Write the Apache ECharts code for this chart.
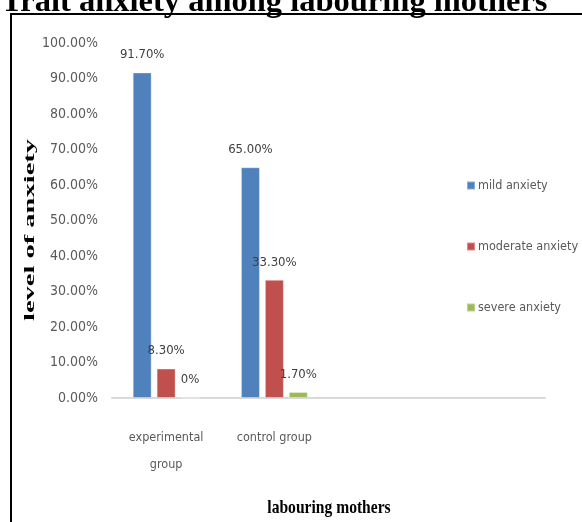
<!DOCTYPE html>
<html>
<head>
<meta charset="utf-8">
<script src="https://cdn.jsdelivr.net/npm/echarts@6/dist/echarts.min.js"></script>
<style>
  html, body { margin: 0; padding: 0; background: #fff; }
  #chart { width: 582px; height: 522px; }
</style>
</head>
<body>
<div id="chart"></div>
<script>
const categories = ['experimental\ngroup', 'control group', '', ''];
const seriesNames = ['mild anxiety', 'moderate anxiety', 'severe anxiety'];
const mild = [91.7, 65.0];
const moderate = [8.3, 33.3];
const severe = [0, 1.7];
const yTicks = [0, 10, 20, 30, 40, 50, 60, 70, 80, 90, 100];
const colors = ['#4f81bd', '#c0504d', '#9bbb59'];

const narrow = '"Liberation Sans Narrow", "DejaVu Sans Condensed", "Roboto Condensed", "Liberation Sans", sans-serif';
const chart = echarts.init(document.getElementById('chart'));

function pct(v) {
  return v === 0 ? '0%' : v.toFixed(2) + '%';
}

function barSeries(name, data, color) {
  return {
    name: name,
    type: 'bar',
    data: data,
    barWidth: 19,
    barGap: '26%',
    itemStyle: { color: color, borderColor: 'rgba(255,255,255,0.35)', borderWidth: 1 },
    label: {
      show: true,
      position: 'top',
      distance: 11,
      fontFamily: narrow,
      fontSize: 13,
      color: '#404040',
      formatter: p => pct(p.value)
    }
  };
}

chart.setOption({
  animation: false,
  color: colors,
  grid: { left: 112, right: 37, top: 43, bottom: 124 },
  legend: {
    orient: 'vertical',
    left: 461,
    top: 174,
    itemWidth: 8,
    itemHeight: 8,
    itemGap: 48,
    icon: 'rect',
    textStyle: { fontFamily: narrow, fontSize: 12.5, color: '#595959', padding: [0, 0, 0, -2] },
    data: seriesNames
  },
  xAxis: {
    type: 'category',
    data: categories,
    axisTick: { show: false },
    axisLine: { lineStyle: { color: '#d9d9d9', width: 2 } },
    axisLabel: {
      margin: 26,
      fontFamily: narrow,
      fontSize: 12.5,
      lineHeight: 27,
      color: '#595959',
      interval: 0
    }
  },
  yAxis: {
    type: 'value',
    min: yTicks[0],
    max: yTicks[yTicks.length - 1],
    interval: 10,
    splitLine: { show: false },
    axisLine: { show: false },
    axisTick: { show: false },
    axisLabel: {
      margin: 14,
      fontFamily: narrow,
      fontSize: 14,
      color: '#595959',
      formatter: v => v.toFixed(2) + '%'
    }
  },
  graphic: [
    {
      type: 'rect',
      shape: { x: 11, y: 14, width: 640, height: 560 },
      style: { fill: 'none', stroke: '#000', lineWidth: 2 }
    },
    {
      type: 'text',
      x: 1,
      y: 19,
      style: {
        text: 'Trait anxiety among labouring mothers',
        font: 'bold 32.5px "Liberation Serif"',
        fill: '#000',
        textAlign: 'left',
        textVerticalAlign: 'bottom'
      }
    },
    {
      type: 'text',
      x: 30,
      y: 230,
      rotation: Math.PI / 2,
      scaleX: 1.9,
      style: {
        text: 'level of anxiety',
        font: 'bold 15px "Liberation Serif"',
        fill: '#000',
        textAlign: 'center',
        textVerticalAlign: 'middle'
      }
    },
    {
      type: 'text',
      x: 329,
      y: 508,
      scaleX: 0.82,
      style: {
        text: 'labouring mothers',
        font: 'bold 19px "Liberation Serif"',
        fill: '#000',
        textAlign: 'center',
        textVerticalAlign: 'middle'
      }
    }
  ],
  series: [
    barSeries(seriesNames[0], mild, colors[0]),
    barSeries(seriesNames[1], moderate, colors[1]),
    barSeries(seriesNames[2], severe, colors[2])
  ]
});
</script>
</body>
</html>
